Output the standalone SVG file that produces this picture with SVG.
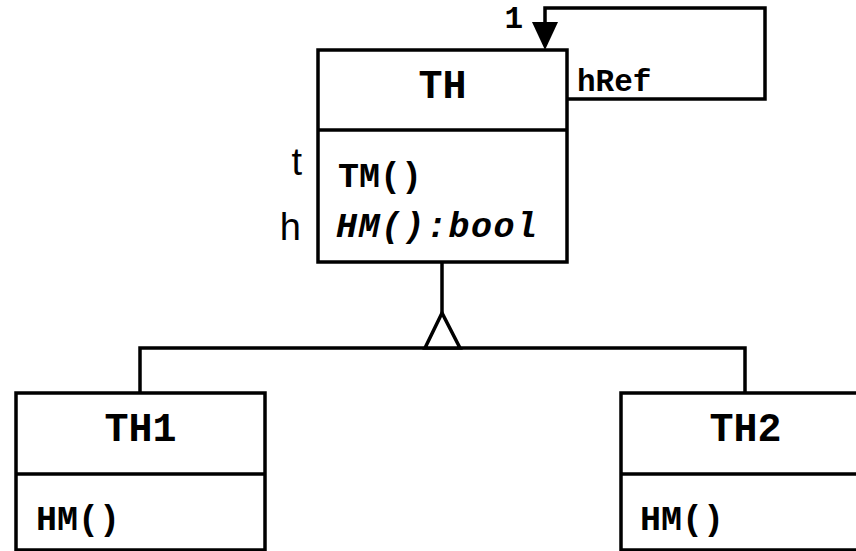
<svg xmlns="http://www.w3.org/2000/svg" width="856" height="551" viewBox="0 0 856 551">
<style>
.box{fill:#fff;stroke:#000;stroke-width:3.5}
.ln{fill:none;stroke:#000;stroke-width:3.5}
.title{font-family:"Liberation Mono",monospace;font-weight:bold;font-size:40px;text-anchor:middle;fill:#000}
.op{font-family:"Liberation Mono",monospace;font-weight:bold;font-size:35px;fill:#000}
.lbl{font-family:"Liberation Mono",monospace;font-weight:bold;font-size:31px;fill:#000}
.side{font-family:"Liberation Sans",Arial,sans-serif;font-size:38px;text-anchor:end;fill:#000}
</style>
<rect width="856" height="551" fill="#fff"/>
<g id="connectors">
<polyline class="ln" points="567,99 765,99 765,8 545,8 545,24"/>
<polygon points="545,50 532,22 558,22" fill="#000"/>
<text class="lbl" x="523" y="28" text-anchor="end">1</text>
<text class="lbl" x="577" y="91">hRef</text>
<line class="ln" x1="442" y1="262" x2="442" y2="313"/>
<polyline class="ln" points="140,393 140,348 745,348 745,393"/>
<polygon class="ln" points="442,313 425,348 460,348" style="fill:#fff"/>
</g>
<g id="TH">
<rect class="box" x="318" y="50" width="249" height="212"/>
<line class="ln" x1="318" y1="130" x2="567" y2="130"/>
<text class="title" x="442.5" y="98">TH</text>
<text class="op" x="338" y="187">TM()</text>
<text class="op" x="336" y="237" font-style="italic" textLength="201" lengthAdjust="spacing">HM():bool</text>
<text class="side" x="302" y="175">t</text>
<text class="side" x="301" y="240">h</text>
</g>
<g id="TH1">
<rect class="box" x="16" y="393" width="249" height="157"/>
<line class="ln" x1="16" y1="474" x2="265" y2="474"/>
<text class="title" x="140.5" y="441">TH1</text>
<text class="op" x="36" y="530">HM()</text>
</g>
<g id="TH2">
<rect class="box" x="621" y="393" width="249" height="157"/>
<line class="ln" x1="621" y1="474" x2="870" y2="474"/>
<text class="title" x="745.5" y="441">TH2</text>
<text class="op" x="640" y="530">HM()</text>
</g>
</svg>
